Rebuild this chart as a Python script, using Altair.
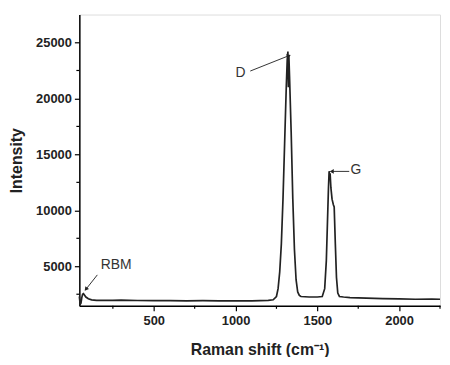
import altair as alt
import pandas as pd

# Raman spectrum
shift = [45, 50, 55, 60, 65, 70, 75, 85, 100, 120, 150, 200, 250, 300, 350, 400, 500, 600, 700,
         800, 900, 1000, 1100, 1200, 1230, 1250, 1260, 1270, 1280, 1290, 1300, 1310, 1316, 1320,
         1323, 1326, 1330, 1340, 1350, 1360, 1370, 1380, 1390, 1400, 1450, 1500, 1530, 1545, 1555,
         1562, 1568, 1572, 1575, 1578, 1583, 1590, 1598, 1603, 1610, 1617, 1625, 1635, 1660, 1700,
         1800, 1900, 2000, 2100, 2200, 2250]
intensity = [2300, 1600, 1700, 2200, 2500, 2550, 2450, 2250, 2100, 2000, 1950, 1960, 1950, 1970,
             1950, 1940, 1930, 1920, 1910, 1920, 1900, 1900, 1910, 1950, 2000, 2300, 3000, 4500,
             7000, 11000, 16000, 21000, 23500, 24200, 21000, 23800, 22000, 17000, 11000, 6500,
             3800, 2700, 2400, 2300, 2250, 2250, 2300, 3000, 5500, 9000, 12000, 13500, 12800,
             13300, 12000, 11000, 10500, 10300, 7000, 4000, 2600, 2300, 2250, 2200, 2150, 2100,
             2080, 2050, 2060, 2050]

# annotations
labels = ["D", "G", "RBM"]
label_x = [1030, 1735, 270]
label_y = [22300, 13600, 5150]
arrow_x1 = [1090, 1695, 155]
arrow_y1 = [22450, 13480, 4230]
arrow_x2 = [1322, 1592, 88]
arrow_y2 = [23800, 13480, 2990]
arrow_angle = [69, 270, 218]

x_major = [500, 1000, 1500, 2000]
x_minor = [250, 750, 1250, 1750, 2250]
y_major = [5000, 10000, 15000, 20000, 25000]
y_minor = [2500, 7500, 12500, 17500, 22500]

X_DOM = [45, 2250]
Y_DOM = [1460, 27500]
W, H = 364, 294
FONT = "Liberation Sans"

spec = pd.DataFrame({"x": shift, "y": intensity})
ann = pd.DataFrame({"t": labels, "x": label_x, "y": label_y})
arr = pd.DataFrame({"x1": arrow_x1, "y1": arrow_y1, "x2": arrow_x2, "y2": arrow_y2,
                    "a": arrow_angle})

xs = alt.Scale(domain=X_DOM, nice=False, zero=False)
ys = alt.Scale(domain=Y_DOM, nice=False, zero=False)

line = alt.Chart(spec).mark_line(color="#222222", strokeWidth=1.7).encode(
    x=alt.X("x:Q", scale=xs, title="Raman shift (cm⁻¹)",
            axis=alt.Axis(values=x_major, format="d", tickSize=5, labelFontSize=13,
                          labelFontWeight="bold", titleFontSize=16, titleFontWeight="bold",
                          labelPadding=4, titlePadding=14, grid=False, labelFont=FONT,
                          titleFont=FONT, domainColor="black", tickColor="black",
                          labelColor="#222", titleColor="#222", domainWidth=1.5, tickWidth=1.2)),
    y=alt.Y("y:Q", scale=ys, title="Intensity",
            axis=alt.Axis(values=y_major, format="d", tickSize=5, labelFontSize=13,
                          labelFontWeight="bold", titleFontSize=16, titleFontWeight="bold",
                          labelPadding=3, titlePadding=11, grid=False, labelFont=FONT,
                          titleFont=FONT, domainColor="black", tickColor="black",
                          labelColor="#222", titleColor="#222", domainWidth=1.5, tickWidth=1.2)),
)

xminor = alt.Chart(pd.DataFrame({"v": x_minor})).mark_rule(color="black", strokeWidth=1.2).encode(
    x=alt.X("v:Q", scale=xs), y=alt.value(H), y2=alt.value(H + 3))
yminor = alt.Chart(pd.DataFrame({"v": y_minor})).mark_rule(color="black", strokeWidth=1.2).encode(
    y=alt.Y("v:Q", scale=ys), x=alt.value(0), x2=alt.value(-3))

text = alt.Chart(ann).mark_text(fontSize=14, font=FONT, color="#333").encode(
    x=alt.X("x:Q", scale=xs), y=alt.Y("y:Q", scale=ys), text="t:N")

rules = alt.Chart(arr).mark_rule(color="#333", strokeWidth=1).encode(
    x=alt.X("x1:Q", scale=xs), y=alt.Y("y1:Q", scale=ys),
    x2="x2:Q", y2="y2:Q")

heads = alt.Chart(arr).mark_point(shape="triangle", filled=True, color="#222", size=22,
                                  opacity=1).encode(
    x=alt.X("x2:Q", scale=xs), y=alt.Y("y2:Q", scale=ys), angle=alt.Angle("a:Q", scale=None))

chart = alt.layer(line, xminor, yminor, rules, heads, text).properties(
    width=W, height=H,
    autosize=alt.AutoSizeParams(type="none"),
    padding={"left": 72, "top": 5, "right": 2, "bottom": 50},
).configure_view(stroke="black", strokeWidth=1.5).configure(background="white")

chart.save("out.html", embed_options={"renderer": "svg", "actions": False})
